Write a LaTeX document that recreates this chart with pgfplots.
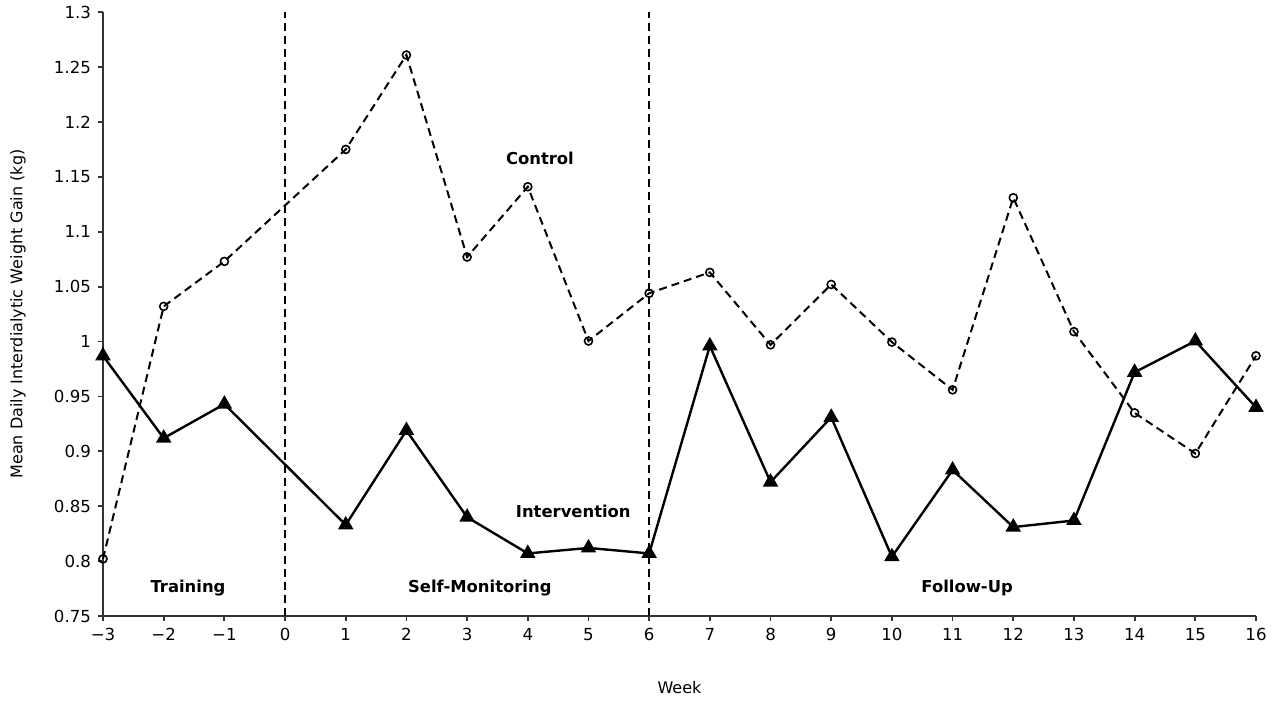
\documentclass[border=0pt]{standalone}
\usepackage{pgfplots}
\pgfplotsset{compat=1.18}
\usepackage{fontspec}
\setmainfont{DejaVu Sans}
\begin{document}
\begin{tikzpicture}
\begin{axis}[
  scale only axis,
  width=576.5pt, height=301.9pt,
  xmin=-3, xmax=16, ymin=0.75, ymax=1.3,
  axis x line*=bottom, axis y line*=left,
  axis line style={line width=1pt, color=black!80},
  tick align=outside,
  major tick length=2.5pt,
  every tick/.style={line width=0.9pt, color=black!80},
  xtick={-3,...,16},
  xticklabels={−3,−2,−1,0,1,2,3,4,5,6,7,8,9,10,11,12,13,14,15,16},
  ytick={0.75,0.8,0.85,0.9,0.95,1,1.05,1.1,1.15,1.2,1.25,1.3},
  yticklabels={0.75,0.8,0.85,0.9,0.95,1,1.05,1.1,1.15,1.2,1.25,1.3},
  ticklabel style={font=\fontsize{8.3pt}{9pt}\selectfont},
  xlabel={Week},
  ylabel={Mean Daily Interdialytic Weight Gain (kg)},
  xlabel style={at={(rel axis cs:0.5,0)}, anchor=center, yshift=-36pt, font=\fontsize{8pt}{9pt}\selectfont},
  ylabel style={at={(rel axis cs:0,0.5)}, anchor=center, yshift=42.5pt, font=\fontsize{8pt}{9pt}\selectfont},
  clip=false,
]
\addplot[black, line width=1pt, dash pattern=on 4pt off 2.5pt] coordinates {(0,0.75) (0,1.3)};
\addplot[black, line width=1pt, dash pattern=on 4pt off 2.5pt] coordinates {(6,0.75) (6,1.3)};
\addplot[black, line width=1pt, dash pattern=on 4pt off 2.5pt, mark=o, mark size=2pt, mark options={solid, fill=white, line width=0.8pt}] coordinates {
(-3,0.802) (-2,1.032) (-1,1.073) (1,1.175) (2,1.261) (3,1.077) (4,1.141) (5,1.0005) (6,1.044) (7,1.063) (8,0.997) (9,1.052) (10,0.9995) (11,0.956) (12,1.131) (13,1.009) (14,0.935) (15,0.898) (16,0.987)
};
\addplot[black, line width=1.2pt, mark=triangle*, mark size=3.3pt, mark options={solid, fill=black}] coordinates {
(-3,0.987) (-2,0.912) (-1,0.943) (1,0.833) (2,0.919) (3,0.840) (4,0.807) (5,0.812) (6,0.807) (7,0.996) (8,0.872) (9,0.931) (10,0.804) (11,0.883) (12,0.831) (13,0.837) (14,0.972) (15,1.0005) (16,0.940)
};
\node[font=\bfseries\fontsize{8.2pt}{9pt}\selectfont] at (axis cs:4.2,1.167) {Control};
\node[font=\bfseries\fontsize{8.2pt}{9pt}\selectfont] at (axis cs:4.75,0.845) {Intervention};
\node[font=\bfseries\fontsize{8.2pt}{9pt}\selectfont] at (axis cs:-1.6,0.7755) {Training};
\node[font=\bfseries\fontsize{8.2pt}{9pt}\selectfont] at (axis cs:3.21,0.7755) {Self-Monitoring};
\node[font=\bfseries\fontsize{8.2pt}{9pt}\selectfont] at (axis cs:11.24,0.7755) {Follow-Up};
\end{axis}
\pgfresetboundingbox
\path[use as bounding box] (-51.5pt,-43pt) rectangle (591pt,308pt);
\end{tikzpicture}
\end{document}
